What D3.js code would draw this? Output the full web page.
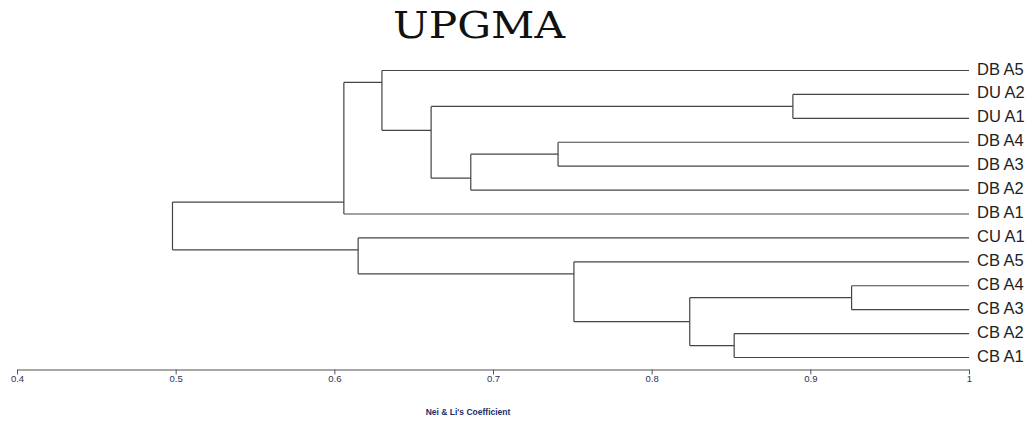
<!DOCTYPE html>
<html><head><meta charset="utf-8">
<script src="https://cdn.jsdelivr.net/npm/d3@7"></script>
<style>html,body{margin:0;padding:0;background:#fff;}svg{display:block;}</style>
</head><body>
<svg id="chart" width="1034" height="422"></svg>
<script>
// ---- data ----
const leafLabels = ["DB A5","DU A2","DU A1","DB A4","DB A3","DB A2","DB A1","CU A1","CB A5","CB A4","CB A3","CB A2","CB A1"];
const nodeIds = ["nDU","nDB43","nDB432","nDUDB","nDB5","nDB","nCB43","nCB21","nCB4321","nCB","nC","root"];
const nodeChildren = [
  ["DU A2","DU A1"],
  ["DB A4","DB A3"],
  ["nDB43","DB A2"],
  ["nDU","nDB432"],
  ["DB A5","nDUDB"],
  ["nDB5","DB A1"],
  ["CB A4","CB A3"],
  ["CB A2","CB A1"],
  ["nCB43","nCB21"],
  ["CB A5","nCB4321"],
  ["CU A1","nCB"],
  ["nDB","nC"]
];
const nodeSimilarity = [0.889,0.741,0.686,0.661,0.630,0.606,0.926,0.852,0.824,0.751,0.615,0.498];
const axisTicks = [0.4,0.5,0.6,0.7,0.8,0.9,1];
const titleText = "UPGMA";
const axisTitle = "Nei & Li's Coefficient";

// ---- build hierarchy ----
const rows = [];
nodeIds.forEach((id,i)=>{ rows.push({id, parent:null, value:nodeSimilarity[i]}); });
const parentOf = {};
nodeChildren.forEach((ch,i)=>ch.forEach(c=>parentOf[c]=nodeIds[i]));
rows.forEach(r=>r.parent = parentOf[r.id] || null);
leafLabels.forEach(l=>rows.push({id:l, parent:parentOf[l], value:1}));
const root = d3.stratify().id(d=>d.id).parentId(d=>d.parent)(rows);
root.each(n=>{ if(n.children){ const i=nodeIds.indexOf(n.id); const ord=nodeChildren[i]; n.children.sort((a,b)=>ord.indexOf(a.id)-ord.indexOf(b.id)); } });

// ---- scales ----
const svg = d3.select("#chart");
const x = d3.scaleLinear().domain([0.4,1]).range([17,969]);
const y = d3.scalePoint().domain(leafLabels).range([70.5,357.5]);

function firstLeaf(n){ while(n.children) n=n.children[0]; return n; }
function lastLeaf(n){ while(n.children) n=n.children[n.children.length-1]; return n; }
root.each(n=>{
  if(!n.children) n.cy = y(n.id);
  else n.cy = (y(lastLeaf(n.children[0]).id) + y(firstLeaf(n.children[1]).id))/2;
});

const g = svg.append("g").attr("fill","none").attr("stroke","#444").attr("stroke-width",1.2);
root.each(n=>{
  if(!n.children) return;
  const px = x(n.data.value);
  const ys = n.children.map(c=>c.cy);
  g.append("line").attr("x1",px).attr("x2",px).attr("y1",d3.min(ys)).attr("y2",d3.max(ys));
  n.children.forEach(c=>{
    g.append("line").attr("x1",px).attr("x2",x(c.data.value)).attr("y1",c.cy).attr("y2",c.cy);
  });
});

// leaf labels
svg.append("g").selectAll("text").data(leafLabels).join("text")
  .attr("x", x(1)+8).attr("y", d=>y(d)+4)
  .attr("font-family","'Liberation Sans', Arial, sans-serif").attr("font-size",16.5)
  .attr("fill","#222").text(d=>d);

// axis
const ax = svg.append("g").attr("transform","translate(0,369.5)")
  .call(d3.axisBottom(x).tickValues(axisTicks).tickSize(5).tickSizeOuter(0)
    .tickFormat(d=> d===1 ? "1" : d3.format(".1f")(d)));
ax.select(".domain").attr("stroke","#8a8a8a").attr("stroke-width",1.6);
ax.selectAll(".tick line").attr("stroke","#555");
ax.selectAll(".tick text").attr("font-family","'Liberation Sans', Arial, sans-serif")
  .attr("font-size",9.5).attr("fill","#2a3060").attr("dy","0.5em");

// axis title
svg.append("text").attr("x",468).attr("y",415).attr("text-anchor","middle")
  .attr("font-family","'Liberation Sans', Arial, sans-serif").attr("font-size",8.5)
  .attr("font-weight","bold").attr("fill","#1f2d6b").text(axisTitle);

// title
svg.append("text").attr("x",479).attr("y",37.5).attr("text-anchor","middle")
  .attr("font-family","'DejaVu Serif', 'Liberation Serif', serif").attr("font-size",37)
  .attr("textLength",172).attr("lengthAdjust","spacingAndGlyphs")
  .attr("fill","#111").text(titleText);
</script>
</body></html>
